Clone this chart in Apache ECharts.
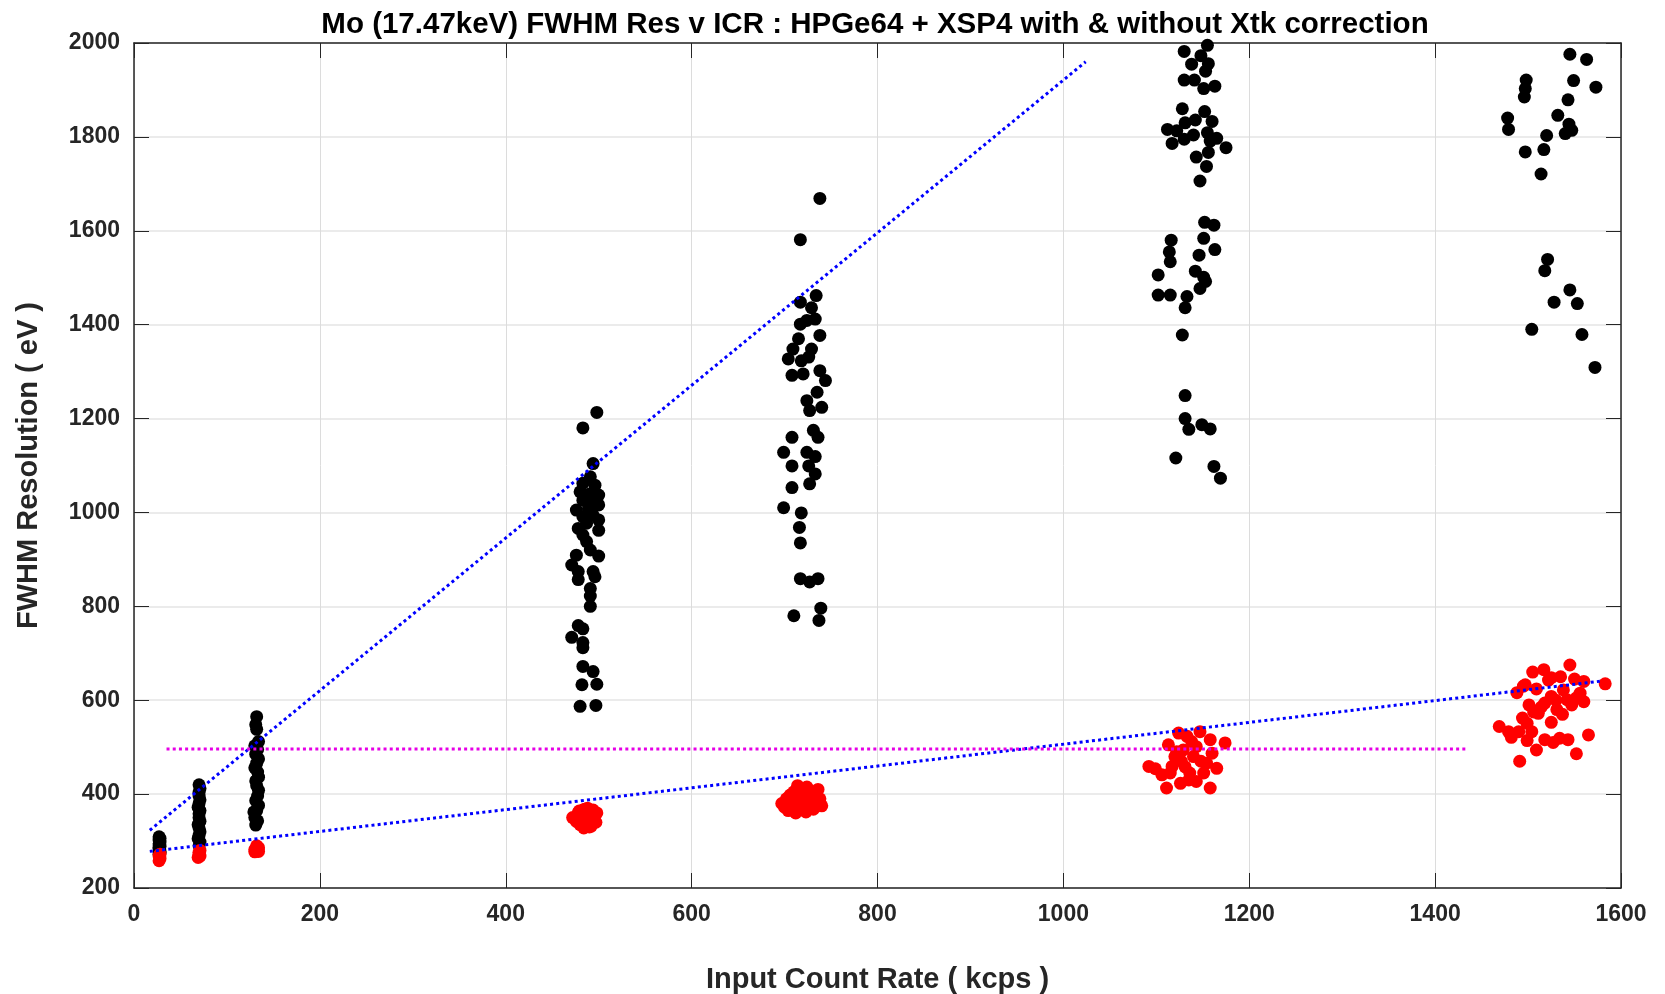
<!DOCTYPE html>
<html>
<head>
<meta charset="utf-8">
<script src="https://cdn.jsdelivr.net/npm/echarts@6/dist/echarts.min.js"></script>
<style>
  html, body { margin: 0; padding: 0; background: #fff; }
  #chart { width: 1665px; height: 994px; }
</style>
</head>
<body>
<div id="chart"></div>
<script>
// axis ticks
const xTicks = { min: 0, max: 1600, step: 200 };
const yTicks = { min: 200, max: 2000, step: 200 };

// FWHM without Xtk correction (black), [ICR kcps, FWHM eV]
const rawRes = [
  [27, 272], [28, 275], [28, 278], [27, 284], [27, 287], [28, 289], [27, 294], [28, 298], [27, 302], [28, 306], [27, 309],
  [70, 290], [71, 298], [69, 305], [70, 312], [71, 320], [70, 328], [69, 335], [71, 342], [70, 350], [70, 358],
  [71, 365], [69, 372], [70, 380], [71, 388], [70, 396], [70, 404], [71, 412], [70, 420],
  [132, 565], [131, 548], [132, 538], [134, 512], [130, 503], [133, 495], [131, 485], [134, 475], [132, 466],
  [130, 456], [133, 447], [134, 436], [131, 428], [132, 418], [134, 408], [133, 396], [131, 386], [134, 376],
  [132, 365], [129, 362], [130, 350], [133, 343], [131, 334],
  [498, 1213], [483, 1180], [494, 1104], [491, 1076], [483, 1062], [496, 1058], [480, 1044], [491, 1040],
  [500, 1037], [483, 1026], [494, 1023], [476, 1005], [489, 1008], [500, 1016], [483, 991], [494, 994],
  [487, 977], [500, 984], [478, 966], [500, 962], [483, 952], [487, 938], [491, 920], [476, 909], [500, 907],
  [471, 888], [478, 874], [494, 874], [478, 857], [496, 863], [491, 838], [491, 822], [491, 800], [478, 759],
  [483, 752], [471, 734], [483, 723], [483, 712], [483, 672], [494, 661], [482, 633], [498, 634], [480, 587], [497, 589],
  [738, 1669], [717, 1581], [734, 1462], [717, 1448], [729, 1436], [717, 1401], [733, 1412], [724, 1409],
  [715, 1370], [738, 1377], [709, 1348], [729, 1348], [704, 1327], [718, 1323], [726, 1331], [708, 1292],
  [720, 1295], [738, 1302], [744, 1281], [735, 1256], [724, 1238], [727, 1217], [740, 1224], [731, 1175],
  [736, 1160], [708, 1160], [699, 1128], [724, 1128], [733, 1119], [708, 1099], [726, 1099], [733, 1082],
  [727, 1061], [708, 1053], [699, 1010], [718, 999], [716, 968], [717, 935], [717, 859], [727, 852],
  [736, 859], [739, 796], [710, 780], [737, 770],
  [1155, 1995], [1130, 1982], [1148, 1973], [1138, 1955], [1156, 1956], [1153, 1940], [1130, 1921], [1141, 1921],
  [1151, 1903], [1163, 1908], [1128, 1860], [1152, 1854], [1142, 1836], [1160, 1833], [1112, 1816], [1131, 1830],
  [1122, 1813], [1140, 1804], [1130, 1795], [1155, 1809], [1165, 1797], [1117, 1786], [1158, 1791], [1175, 1777],
  [1156, 1767], [1143, 1757], [1154, 1737], [1147, 1706], [1152, 1618], [1162, 1612], [1116, 1580], [1151, 1584],
  [1163, 1560], [1114, 1555], [1146, 1548], [1115, 1534], [1142, 1514], [1102, 1506], [1151, 1501], [1153, 1492],
  [1147, 1477], [1102, 1463], [1115, 1463], [1133, 1460], [1131, 1436], [1128, 1378], [1131, 1249], [1131, 1200],
  [1135, 1177], [1149, 1187], [1158, 1178], [1121, 1116], [1162, 1098], [1169, 1073],
  [1545, 1976], [1563, 1965], [1498, 1921], [1549, 1920], [1497, 1903], [1573, 1906], [1496, 1885], [1543, 1879],
  [1478, 1840], [1532, 1846], [1544, 1827], [1479, 1816], [1547, 1814], [1540, 1807], [1520, 1803], [1497, 1768],
  [1517, 1773], [1514, 1721], [1521, 1539], [1518, 1515], [1545, 1474], [1528, 1448], [1553, 1445], [1504, 1390],
  [1558, 1379], [1572, 1309]
];

// FWHM with Xtk correction (red)
const corrRes = [
  [27, 258], [28, 263], [27, 268], [28, 272],
  [69, 265], [71, 268], [70, 272], [70, 276], [71, 280],
  [130, 277], [133, 280], [131, 283], [134, 286], [132, 290], [130, 282], [134, 278],
  [472, 350], [476, 342], [478, 360], [480, 335], [481, 348], [483, 366], [484, 328], [486, 355], [487, 340],
  [488, 370], [489, 362], [491, 345], [492, 332], [494, 366], [495, 352], [497, 340], [498, 360], [485, 368],
  [479, 364], [490, 330],
  [697, 380], [700, 372], [702, 390], [704, 365], [706, 398], [708, 385], [709, 375], [710, 405], [712, 360],
  [713, 392], [715, 380], [716, 412], [718, 370], [719, 398], [720, 385], [722, 408], [723, 362], [725, 390],
  [726, 375], [728, 402], [729, 385], [731, 368], [732, 395], [734, 380], [736, 410], [738, 390], [740, 375],
  [714, 418], [707, 368], [724, 415],
  [1099, 454], [1106, 441], [1111, 413], [1113, 505], [1124, 530], [1120, 480], [1117, 459], [1126, 423],
  [1133, 523], [1129, 494], [1127, 470], [1136, 445], [1135, 430], [1147, 533], [1143, 501], [1140, 480],
  [1151, 445], [1158, 516], [1160, 487], [1154, 466], [1158, 413], [1165, 455], [1174, 509], [1115, 445],
  [1143, 427], [1092, 459], [1122, 490], [1138, 512], [1148, 470], [1131, 458],
  [1469, 544], [1479, 533], [1482, 521], [1491, 470], [1488, 616], [1497, 633], [1509, 624], [1501, 590],
  [1494, 562], [1499, 551], [1490, 533], [1504, 533], [1499, 514], [1509, 494], [1511, 572], [1518, 594],
  [1522, 643], [1525, 608], [1525, 553], [1531, 580], [1518, 516], [1527, 510], [1534, 519], [1543, 516],
  [1538, 622], [1542, 601], [1547, 590], [1552, 486], [1556, 615], [1560, 597], [1565, 526], [1583, 635],
  [1505, 660], [1517, 665], [1545, 675], [1535, 650], [1550, 645], [1525, 648], [1560, 640], [1495, 630],
  [1530, 600], [1514, 585], [1537, 570], [1552, 605], [1506, 575]
];

// linear fits and 500 eV target line
const rawFit = [[17, 323], [1024, 1960]];
const corrFit = [[17, 278], [1580, 641]];
const targetLine = [[35, 496], [1434, 496]];

const titleText = 'Mo (17.47keV) FWHM Res v ICR : HPGe64 + XSP4 with & without Xtk correction';

const axisColor = '#262626';
const font = '"Liberation Sans", Arial, Helvetica, sans-serif';

const chart = echarts.init(document.getElementById('chart'));

const dotted = (color, data) => ({
  type: 'line',
  data: data,
  symbol: 'none',
  z: 5,
  silent: true,
  lineStyle: { color: color, width: 3, type: [3, 3.2], cap: 'butt' }
});

const boxAxis = (extra) => ({
  type: 'value',
  axisLine: { show: true, onZero: false, lineStyle: { color: axisColor, width: 1.5 } },
  axisTick: { show: true, inside: true, length: 15, lineStyle: { color: axisColor, width: 1 } },
  ...extra
});

const tickLabel = {
  margin: 15,
  fontFamily: font,
  fontWeight: 'bold',
  fontSize: 23,
  color: axisColor,
  formatter: (v) => String(v)
};

const nameStyle = { fontFamily: font, fontWeight: 'bold', fontSize: 29, color: axisColor };

chart.setOption({
  animation: false,
  backgroundColor: '#fff',
  title: {
    text: titleText,
    left: 870,
    top: 5,
    textAlign: 'center',
    textStyle: { fontFamily: font, fontWeight: 'bold', fontSize: 29.5, color: '#000' }
  },
  grid: { left: 134, right: 44, top: 43, bottom: 106, outerBoundsMode: 'none', containLabel: false },
  xAxis: [
    boxAxis({
      position: 'bottom',
      min: xTicks.min, max: xTicks.max, interval: xTicks.step,
      name: 'Input Count Rate ( kcps )',
      nameLocation: 'middle',
      nameGap: 77,
      nameTextStyle: nameStyle,
      axisLabel: tickLabel,
      splitLine: { show: true, lineStyle: { color: '#dcdcdc', width: 1 } }
    }),
    boxAxis({
      position: 'top',
      min: xTicks.min, max: xTicks.max, interval: xTicks.step,
      axisLabel: { show: false },
      splitLine: { show: false }
    })
  ],
  yAxis: [
    boxAxis({
      position: 'left',
      min: yTicks.min, max: yTicks.max, interval: yTicks.step,
      name: 'FWHM Resolution ( eV )',
      nameLocation: 'middle',
      nameGap: 91,
      nameTextStyle: nameStyle,
      axisLabel: { ...tickLabel, margin: 14 },
      splitLine: { show: true, lineStyle: { color: '#e4e4e4', width: 1.5 } }
    }),
    boxAxis({
      position: 'right',
      min: yTicks.min, max: yTicks.max, interval: yTicks.step,
      axisLabel: { show: false },
      splitLine: { show: false }
    })
  ],
  series: [
    {
      type: 'scatter',
      data: rawRes,
      symbol: 'circle',
      symbolSize: 13,
      itemStyle: { color: '#000', opacity: 1 },
      z: 2
    },
    {
      type: 'scatter',
      data: corrRes,
      symbol: 'circle',
      symbolSize: 13,
      itemStyle: { color: '#ff0000', opacity: 1 },
      z: 3
    },
    dotted('#0000ff', rawFit),
    dotted('#0000ff', corrFit),
    dotted('#e600e6', targetLine)
  ]
});
</script>
</body>
</html>
